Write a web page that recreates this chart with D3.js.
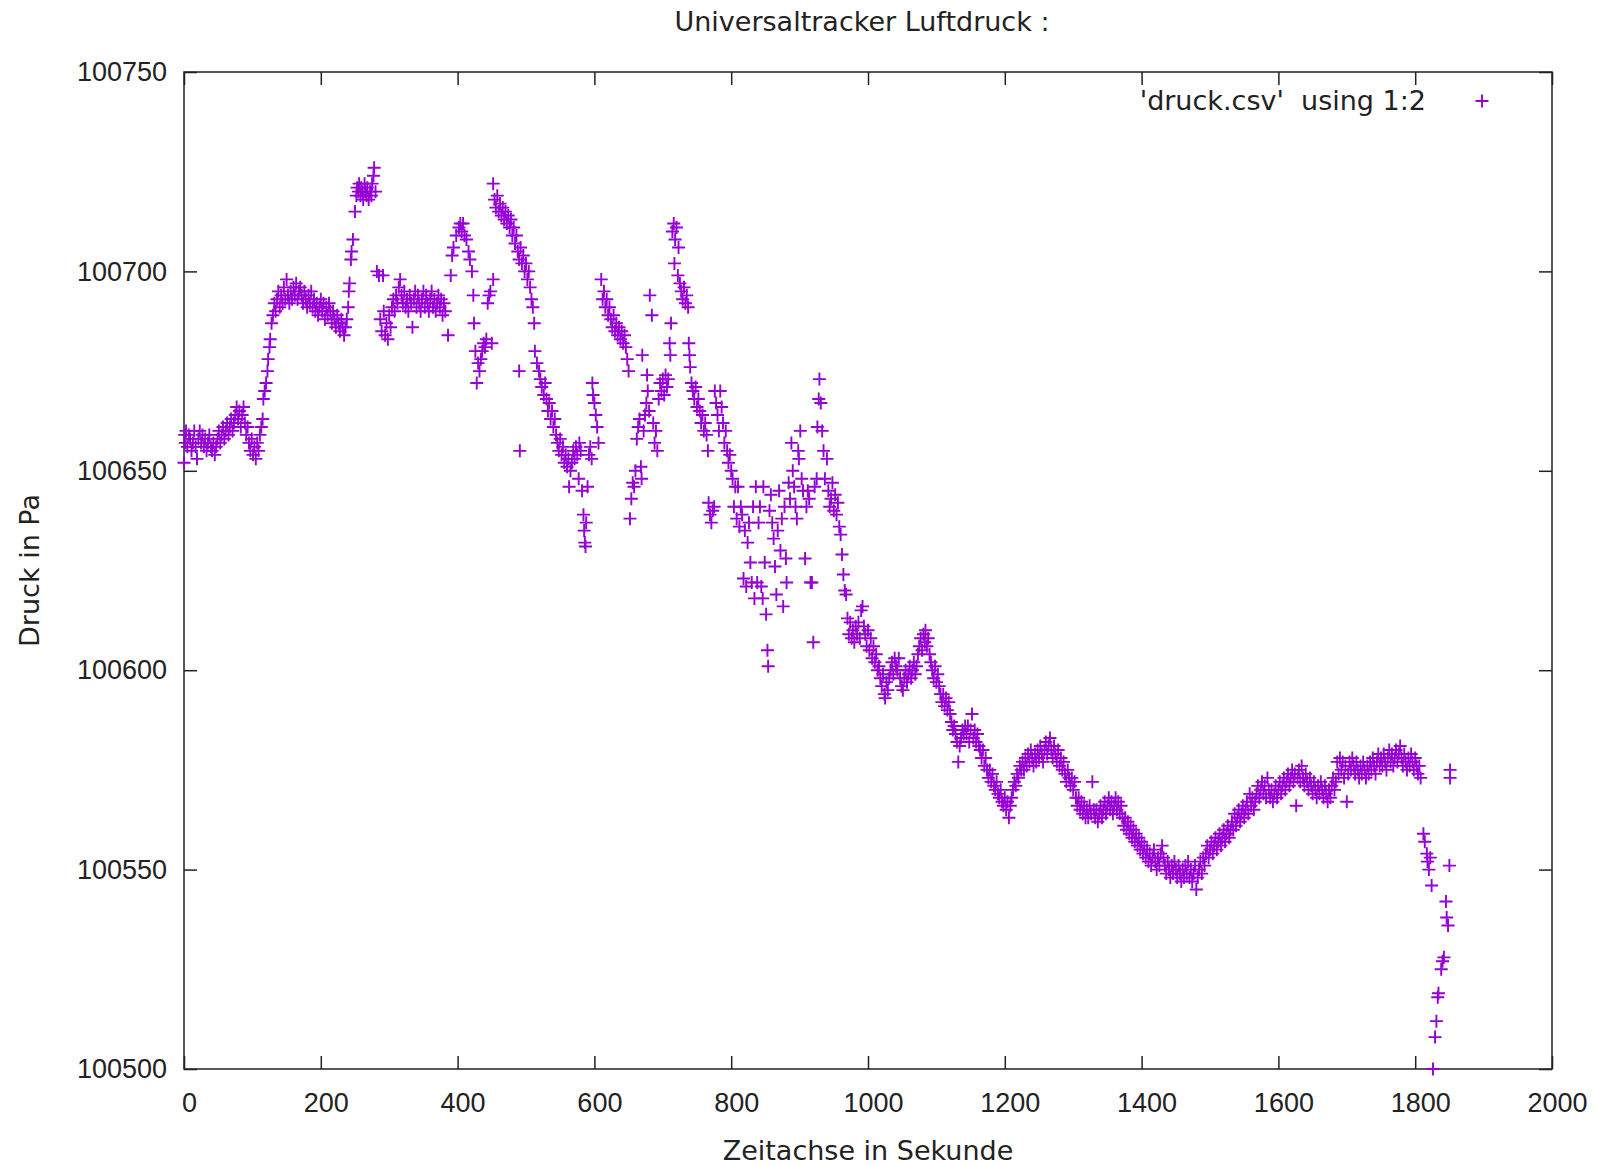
<!DOCTYPE html>
<html>
<head>
<meta charset="utf-8">
<script src="https://cdn.jsdelivr.net/npm/d3@7"></script>
<style>
  body { margin: 0; background: #fff; }
  svg { display: block; font-family: 'DejaVu Sans', Verdana, sans-serif; }
  text { fill: #222; }
  .tick text { font-size: 27px; }
  .tick line { stroke: #222; stroke-width: 1.5; }
  .label { font-size: 27px; }
  .marker { fill: none; stroke: #9400d3; stroke-width: 1.9; }
</style>
</head>
<body>
<svg id="chart" width="1598" height="1165"></svg>
<script>
'use strict'

// [sekunde, pascal]
const startPoints = [
  [0,100652],[1,100659],[2,100657],[3,100660],[5,100656],[7,100659],[9,100658],[11,100655],[13,100657],[15,100660],
  [17,100656],[19,100653],[21,100658],[23,100660],[25,100657],[27,100659],[29,100656],[31,100658],[33,100655],[35,100657],
  [37,100659],[39,100656],[41,100655],[43,100657],[45,100654],[47,100656],[49,100658],[51,100660],[53,100657],[55,100659],
  [57,100661],[59,100658],[61,100660],[63,100662],[65,100659],[67,100661],[69,100663],[71,100660],[73,100662],[75,100664],
  [77,100666],[79,100663],[81,100665],[83,100661],[85,100664],[87,100666],[89,100662],[91,100659],[93,100661],[95,100657],
  [97,100655],[99,100658],[101,100654],[103,100656],[105,100653],[107,100657],[109,100655],[111,100659],[113,100661],[115,100663]
]
const firstPlateau = [
  [116,100668],[118,100670],[120,100672],[122,100675],[123,100678],[125,100681],[126,100683],[128,100687],[130,100689],[132,100692],
  [134,100690],[136,100693],[138,100695],[140,100691],[142,100694],[144,100692],[146,100696],[148,100693],[150,100698],[152,100694],
  [154,100692],[156,100695],[158,100693],[160,100696],[162,100694],[164,100697],[166,100693],[168,100695],[170,100696],[172,100694],
  [174,100692],[176,100695],[178,100693],[180,100691],[182,100694],[184,100692],[186,100695],[188,100691],[190,100693],[192,100690],
  [194,100692],[196,100689],[198,100691],[200,100693],[202,100690],[204,100692],[206,100688],[208,100691],[210,100689],[212,100692],
  [214,100690],[216,100687],[218,100690],[220,100688],[222,100686],[224,100689],[226,100687],[228,100685],[230,100688],[232,100686],
  [234,100684],[236,100686],[238,100688]
]
const firstPeak = [
  [240,100691],[241,100695],[242,100697],[244,100703],[245,100705],[247,100708],[250,100715],[252,100719],[253,100721],[255,100720],
  [256,100722],[258,100719],[259,100721],[261,100720],[262,100718],[264,100722],[265,100720],[267,100719],[268,100721],[270,100718],
  [272,100720],[274,100719],[275,100722],[277,100724],[278,100726],[280,100720],[282,100700],[285,100699],[287,100688],[289,100685],
  [291,100699],[292,100690],[294,100684],[296,100687],[298,100683]
]
const secondPlateau = [
  [300,100689],[302,100686],[304,100691],[306,100693],[308,100690],[310,100694],[312,100692],[314,100696],[316,100698],[318,100694],
  [320,100692],[322,100695],[324,100691],[326,100693],[328,100690],[330,100694],[332,100692],[334,100686],[336,100693],[338,100695],
  [340,100691],[342,100694],[344,100692],[346,100690],[348,100693],[350,100695],[352,100691],[354,100694],[356,100692],[358,100690],
  [360,100693],[362,100695],[364,100691],[366,100693],[368,100690],[370,100692],[372,100694],[374,100691],[376,100693],[378,100689],
  [380,100692],[382,100690],[386,100684],
  [390,100699],[392,100704],[394,100706],[398,100709],[402,100711],[404,100712],[406,100710],[408,100712],[410,100709],[413,100708],
  [416,100705],[418,100703],[421,100700],[423,100694],[424,100687],[426,100680],[428,100672],[430,100677],[432,100675],[434,100678],
  [436,100680],[438,100682],[440,100681],[442,100683],[444,100692],[446,100694],[448,100695],[450,100682],[452,100698]
]
const secondPeak = [
  [452,100722],[454,100718],[456,100716],[458,100719],[460,100715],[462,100717],[464,100714],[466,100716],[468,100713],[470,100715],
  [472,100712],[474,100714],[476,100711],[478,100713],[480,100709],[482,100711],[484,100707],[486,100709],[488,100705],[490,100703],
  [490,100675],[491,100655],[492,100706],[494,100702],[496,100704],[498,100700],[500,100702],[502,100698],[504,100700],[506,100696],
  [508,100693],[510,100691],[512,100687],[513,100680],[516,100677],[519,100675],[521,100673],[523,100671],[526,100669],[528,100672],
  [530,100668],[532,100665],[534,100667],[536,100663],[538,100665],[540,100661],[542,100663],[544,100659],[546,100657],[548,100655],
  [550,100658],[552,100654],[554,100656],[556,100652],[558,100654],[560,100651],[562,100653],[563,100646],[565,100650],[567,100652],
  [569,100655],[571,100653],[573,100656],[575,100654],[577,100648],[578,100657],[580,100655],[582,100645],[584,100639],[585,100635],
  [586,100632],[587,100631],[588,100637],[590,100646],[592,100654],[594,100656],[596,100653],[597,100672],[598,100669],[600,100667],
  [602,100664],[604,100661],[606,100657]
]
const thirdPeak = [
  [610,100698],[612,100693],[614,100695],[616,100691],[618,100693],[620,100689],[622,100691],[624,100688],[626,100686],[628,100689],
  [630,100685],[632,100687],[634,100684],[636,100686],[638,100683],[640,100685],[642,100682],[644,100684],[646,100681],[648,100678],
  [650,100675],[652,100638],[654,100643],[656,100647],[658,100646],[660,100650],[662,100658],[664,100661],[666,100663],[668,100651],
  [669,100648],[670,100679],[672,100660],[674,100664],[676,100667],[677,100674],[678,100670],[680,100665],[681,100694],[684,100689],
  [686,100662],[688,100657],[690,100660],[692,100655],[694,100668],[696,100672],[698,100670],[700,100673],[702,100669],[704,100674],
  [706,100671],[708,100673],
  [710,100682],[711,100679],[712,100687],[714,100710],[716,100712],[717,100702],[718,100708],[720,100711],[722,100699],[723,100706],
  [725,100697],[727,100695],[729,100693],[731,100696],[733,100692],[735,100694],[737,100691],[738,100682],[739,100679],[740,100676],
  [742,100672],[744,100670],[746,100668],[748,100671],[750,100666],[752,100668],[754,100665],[756,100662],[758,100664],[760,100660],
  [762,100662],[764,100659],[766,100655],[767,100642],[769,100639],[771,100637],[773,100640],[775,100641]
]
const scatterPoints = [
  [776,100670],[778,100667],[780,100664],[782,100660],[784,100670],[786,100666],[788,100662],[790,100657],[792,100660],[794,100655],
  [796,100652],[798,100654],[800,100650],[802,100648],[804,100641],[806,100646],[808,100638],[810,100646],[812,100636],[814,100641],
  [816,100639],[818,100623],[820,100635],[822,100621],[824,100632],[826,100637],[828,100627],[830,100622],[832,100641],[834,100618],
  [836,100646],[838,100622],[840,100637],[842,100641],[844,100621],[846,100618],[847,100646],[849,100627],[851,100614],[853,100605],
  [854,100601],[856,100640],[858,100644],[860,100637],[862,100633],[864,100626],[866,100619],[868,100635],[870,100645],[872,100630],
  [874,100638],[876,100616],[878,100641],[880,100628],[881,100622],[884,100647],[886,100643],[888,100657],[890,100650],[892,100646],
  [894,100641],[896,100638],[898,100655],[899,100653],[901,100660],[903,100648],[905,100645],[908,100628],[910,100641],[912,100645],
  [914,100643],[916,100622],[918,100622],[920,100607],[922,100646],[925,100648],[926,100661],[928,100668],[929,100673],[931,100667],
  [933,100660],[935,100655],[937,100648],[940,100653],[942,100645],[944,100641],[946,100643],[948,100647],[950,100640],[952,100644],
  [954,100639],[956,100642],[958,100636],[960,100634],[962,100629]
]
const descentPoints = [
  [964,100624],[966,100620],[968,100619],[970,100613],[972,100609],[974,100612],[976,100608],[978,100610],[980,100607],[982,100611],
  [984,100609],[986,100612],[988,100608],[990,100615],[992,100616],[994,100611],[996,100609],[998,100606],[1000,100610],[1002,100605],
  [1004,100608],[1006,100603],[1008,100606],[1010,100602],[1012,100604],[1014,100600],[1016,100601],[1018,100598],[1020,100596],[1022,100599],
  [1024,100594],[1025,100593],[1027,100597],[1029,100595],[1031,100598],[1033,100600],[1035,100602],[1037,100599],[1039,100603],[1041,100601],
  [1043,100600],[1045,100603],[1047,100598],[1049,100596],[1051,100595],[1053,100598],[1055,100600],[1057,100597],[1059,100599],[1061,100601],
  [1063,100598],[1065,100600],[1067,100602],[1069,100599],[1071,100601],[1073,100604],[1075,100606],[1077,100608],[1079,100605],[1081,100609],
  [1083,100607],[1084,100610],[1086,100606],[1088,100608],[1090,100604],[1092,100602],[1094,100600],[1096,100598],[1098,100601],[1100,100597],
  [1102,100599],[1104,100596],[1106,100594],[1108,100592],[1110,100594],[1112,100591],[1114,100593],[1116,100590],[1118,100592],[1120,100589],
  [1122,100587],[1124,100585],[1126,100586],[1128,100584],[1130,100582],[1132,100577],[1134,100581],[1136,100583],[1138,100585],[1140,100584],
  [1142,100586],[1144,100584],[1146,100586],[1148,100582],[1150,100585],[1152,100589],[1154,100583],[1156,100585],[1158,100582],[1160,100584],
  [1162,100581],[1164,100580],[1166,100578],[1168,100580],[1170,100576],[1172,100578],[1174,100575],[1176,100573],[1178,100575],[1180,100572],
  [1182,100574],[1184,100571],[1186,100570],[1188,100572],[1190,100569],[1192,100568],[1194,100570],[1196,100567],[1198,100566],[1200,100568],
  [1202,100565],[1204,100567],[1206,100563],[1208,100566],[1210,100568],[1212,100570],[1214,100572],[1216,100571],[1218,100574],[1220,100573],
  [1222,100576],[1224,100575],[1226,100577],[1228,100575],[1230,100578],[1232,100576],[1234,100579],[1236,100577],[1238,100580],[1240,100578],
  [1242,100576],[1244,100579],[1246,100577],[1248,100580],[1250,100578],[1252,100581],[1254,100579],[1256,100577],[1258,100580],[1260,100582],
  [1262,100579],[1264,100581],[1266,100583],[1268,100580],[1270,100578],[1272,100581],[1274,100579],[1276,100577],[1278,100580],[1280,100576],
  [1282,100578],[1284,100575],[1286,100577],[1288,100574],[1290,100572],[1292,100575],[1294,100573],[1296,100571],[1298,100573],[1300,100570],
  [1302,100572],[1304,100568],[1306,100566],[1308,100568],[1310,100565],[1312,100567],[1314,100564],[1316,100566],[1318,100563],[1320,100565],
  [1322,100563],[1324,100566],[1326,100564],[1328,100572],[1330,100565],[1332,100563],[1334,100565],[1336,100562],[1338,100564],[1340,100566],
  [1342,100563],[1344,100565],[1346,100567],[1348,100564],[1350,100566],[1352,100568],[1354,100565],[1356,100567],[1358,100564],[1360,100566],
  [1362,100568],[1364,100565],[1366,100567],[1368,100564],[1370,100566],[1372,100563],[1374,100561],[1376,100563],[1378,100560],[1380,100562],
  [1382,100559],[1384,100561],[1386,100558],[1388,100560],[1390,100557],[1392,100559],[1394,100556],[1396,100558],[1398,100555],[1400,100557],
  [1402,100554],[1404,100556],[1406,100553],[1408,100555],[1410,100552],[1412,100554],[1414,100551],[1416,100553],[1418,100555],[1420,100552],
  [1422,100550],[1424,100553],[1426,100551],[1428,100554],[1430,100556],[1432,100553],[1434,100551],[1436,100549],[1438,100552],[1440,100550],
  [1442,100548],[1444,100551],[1446,100549],[1448,100552],[1450,100550],[1452,100548],[1454,100551],[1456,100549],[1458,100547],[1460,100550]
]
const recoveryPoints = [
  [1462,100548],[1464,100551],[1466,100549],[1468,100552],[1470,100548],[1472,100550],[1474,100547],[1476,100549],[1478,100551],[1480,100545],
  [1482,100548],[1484,100550],[1486,100552],[1488,100549],[1490,100553],[1492,100551],[1494,100554],[1496,100556],[1498,100553],[1500,100555],
  [1502,100557],[1504,100554],[1506,100556],[1508,100558],[1510,100555],[1512,100557],[1514,100559],[1516,100556],[1518,100558],[1520,100560],
  [1522,100557],[1524,100559],[1526,100561],[1528,100558],[1530,100560],[1532,100562],[1534,100560],[1536,100564],[1538,100561],[1540,100563],
  [1542,100565],[1544,100562],[1546,100564],[1548,100566],[1550,100563],[1552,100565],[1554,100567],[1556,100564],[1558,100569],[1560,100566],
  [1562,100568],[1564,100565],[1566,100567],[1568,100569],[1570,100571],[1572,100568],[1574,100570],[1576,100572],[1578,100569],[1580,100571],
  [1582,100568],[1584,100573],[1586,100570],[1588,100568],[1590,100570],[1592,100567],[1594,100569],[1596,100571],[1598,100568],[1600,100570],
  [1602,100572],[1604,100569],[1606,100571],[1608,100573],[1610,100570],[1612,100572],[1614,100574],[1616,100571],[1618,100573],[1620,100575],
  [1622,100572],[1624,100574],[1626,100566],[1628,100573],[1630,100575],[1632,100572],[1634,100576],[1636,100573],[1638,100571],[1640,100574],
  [1642,100572],[1644,100570],[1646,100573],[1648,100571],[1650,100569],[1652,100572],[1654,100570],[1656,100568],[1658,100571],[1660,100569],
  [1662,100572],[1664,100570],[1666,100568],[1668,100571],[1670,100569],[1672,100567],[1674,100570],[1676,100568],[1678,100571],[1680,100573],
  [1682,100570],[1684,100572],[1686,100577],[1688,100574],[1690,100578],[1692,100575],[1694,100577],[1696,100573],[1698,100576],[1700,100567],
  [1702,100574],[1704,100577],[1706,100575],[1708,100578],[1710,100576],[1712,100574],[1714,100577],[1716,100575],[1718,100573],[1720,100576],
  [1722,100574],[1724,100577],[1726,100575],[1728,100573],[1730,100576],[1732,100574],[1734,100577],[1736,100575],[1738,100578],[1740,100576],
  [1742,100574],[1744,100577],[1746,100579],[1748,100576],[1750,100578],[1752,100576],[1754,100579],[1756,100577],[1758,100575],[1760,100578],
  [1762,100580],[1764,100577],[1766,100579],[1768,100576],[1770,100578],[1772,100580],[1774,100577],[1776,100579],[1778,100581],[1780,100578],
  [1782,100576],[1784,100579],[1786,100577],[1788,100575],[1790,100578],[1792,100576],[1794,100579],[1796,100577],[1798,100575],[1800,100578],
  [1802,100576],[1804,100574],[1806,100576],[1808,100573]
]
const dropPoints = [
  [1812,100559],[1814,100557],[1817,100554],[1818,100552],[1820,100550],[1822,100553],[1824,100546],[1826,100500],[1829,100508],[1831,100512],
  [1833,100518],[1834,100519],[1838,100525],[1840,100527],[1842,100528],[1845,100542],[1846,100538],[1848,100536],[1850,100551],[1851,100575],
  [1851,100573]
]

const xTicks = [0, 200, 400, 600, 800, 1000, 1200, 1400, 1600, 1800, 2000]
const yTicks = [100500, 100550, 100600, 100650, 100700, 100750]

const titleText = 'Universaltracker Luftdruck :'
const xLabel = 'Zeitachse in Sekunde'
const yLabel = 'Druck in Pa'
const legendText = "'druck.csv'  using 1:2"

const points = [].concat(startPoints, firstPlateau, firstPeak, secondPlateau, secondPeak,
  thirdPeak, scatterPoints, descentPoints, recoveryPoints, dropPoints)

const margin = { top: 72, right: 46, bottom: 96, left: 184 }
const svg = d3.select('#chart')
const width = +svg.attr('width') - margin.left - margin.right
const height = +svg.attr('height') - margin.top - margin.bottom
const TICK = 13

const x = d3.scaleLinear().domain([0, 2000]).range([0, width])
const y = d3.scaleLinear().domain([100500, 100750]).range([height, 0])

const plus = 'M-6.5,0H6.5M0,-6.5V6.5'

const g = svg.append('g').attr('transform', `translate(${margin.left},${margin.top})`)

// ticks point inward on all four sides, like gnuplot's mirrored border
g.append('g').attr('transform', `translate(0,${height})`)
  .call(d3.axisBottom(x).tickValues(xTicks).tickSize(-TICK).tickPadding(24).tickFormat(d3.format('d')))
  .call(a => a.select('.domain').remove())
  .selectAll('text').attr('dx', 5)
g.append('g')
  .call(d3.axisTop(x).tickValues(xTicks).tickSize(-TICK).tickFormat(''))
  .call(a => a.select('.domain').remove())
g.append('g')
  .call(d3.axisLeft(y).tickValues(yTicks).tickSize(-TICK).tickPadding(17).tickFormat(d3.format('d')))
  .call(a => a.select('.domain').remove())
g.append('g').attr('transform', `translate(${width},0)`)
  .call(d3.axisRight(y).tickValues(yTicks).tickSize(-TICK).tickFormat(''))
  .call(a => a.select('.domain').remove())

g.append('rect')
  .attr('width', width).attr('height', height)
  .attr('fill', 'none').attr('stroke', '#222').attr('stroke-width', 1.5)

g.append('g').selectAll('path.marker')
  .data(points)
  .join('path')
  .attr('class', 'marker')
  .attr('d', plus)
  .attr('transform', d => `translate(${x(d[0])},${y(d[1])})`)

// legend, top right inside the frame
g.append('text').attr('class', 'label')
  .attr('x', width - 126).attr('y', 38)
  .attr('text-anchor', 'end')
  .style('white-space', 'pre')
  .text(legendText)
g.append('path').attr('class', 'marker').attr('d', plus)
  .attr('transform', `translate(${width - 70},29)`)

svg.append('text').attr('class', 'label')
  .attr('x', margin.left + width / 2 - 6).attr('y', 31)
  .attr('text-anchor', 'middle')
  .text(titleText)
svg.append('text').attr('class', 'label')
  .attr('x', margin.left + width / 2).attr('y', 1160)
  .attr('text-anchor', 'middle')
  .text(xLabel)
svg.append('text').attr('class', 'label')
  .attr('transform', `translate(39,${margin.top + height / 2}) rotate(-90)`)
  .attr('text-anchor', 'middle')
  .text(yLabel)
</script>
</body>
</html>
